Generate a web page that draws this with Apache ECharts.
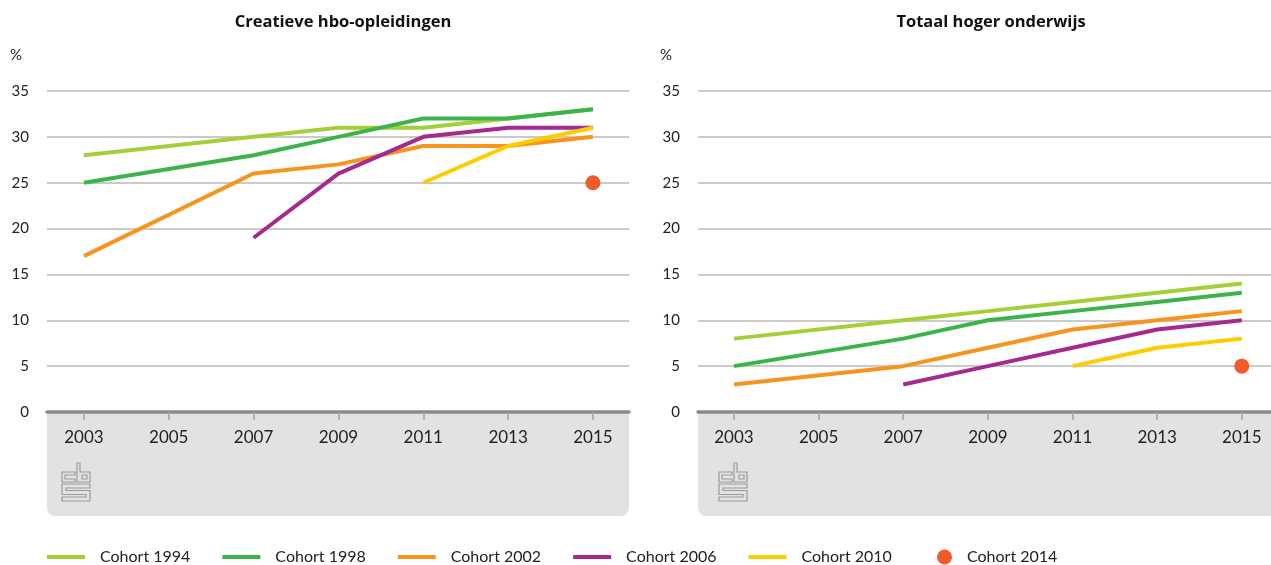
<!DOCTYPE html>
<html>
<head>
<meta charset="utf-8">
<script src="https://cdn.jsdelivr.net/npm/echarts@6/dist/echarts.min.js"></script>
<style>
  html, body { margin: 0; padding: 0; background: #fff; }
  #main { width: 1271px; height: 565px; }
</style>
</head>
<body>
<div id="main"></div>
<script>
// data
const years = [2003, 2007, 2009, 2011, 2013, 2015];
const tickYears = [2003, 2005, 2007, 2009, 2011, 2013, 2015];
const cohorts = ['Cohort 1994', 'Cohort 1998', 'Cohort 2002', 'Cohort 2006', 'Cohort 2010'];
const dotName = 'Cohort 2014';

// Creatieve hbo-opleidingen
const creatief1994 = [28, 30, 31, 31, 32, 33];
const creatief1998 = [25, 28, 30, 32, 32, 33];
const creatief2002 = [17, 26, 27, 29, 29, 30];
const creatief2006 = [null, 19, 26, 30, 31, 31];
const creatief2010 = [null, null, null, 25, 29, 31];
const creatief2014 = [null, null, null, null, null, 25];

// Totaal hoger onderwijs
const totaal1994 = [8, 10, 11, 12, 13, 14];
const totaal1998 = [5, 8, 10, 11, 12, 13];
const totaal2002 = [3, 5, 7, 9, 10, 11];
const totaal2006 = [null, 3, 5, 7, 9, 10];
const totaal2010 = [null, null, null, 5, 7, 8];
const totaal2014 = [null, null, null, null, null, 5];

const colors = ['#a6ce39', '#3cb44b', '#f7941d', '#a52a8f', '#ffcc00'];
const dotColor = '#f15a29';

const font = 'Lato';

function pairs(vals) {
  return years.map((y, i) => [y, vals[i]]).filter(p => p[1] !== null);
}

function xAxis(idx, min, max) {
  return {
    type: 'value', gridIndex: idx, min: min, max: max,
    splitLine: { show: false },
    axisLine: { show: true, lineStyle: { color: '#8a8a8a', width: 3.5 } },
    axisTick: { show: true, customValues: tickYears, length: 8, lineStyle: { color: '#a3a3a3', width: 1.5 } },
    axisLabel: { customValues: tickYears, color: '#222', fontSize: 17, fontFamily: font, margin: 17,
      formatter: v => String(v) }
  };
}
function yAxis(idx) {
  return {
    type: 'value', gridIndex: idx, min: 0, max: 35, interval: 5,
    axisLine: { show: false }, axisTick: { show: false },
    splitLine: { lineStyle: { color: '#b8b8b8', width: 1.5 } },
    axisLabel: { color: '#222', fontSize: 15, fontFamily: font, margin: 18 }
  };
}

const panels = [[creatief1994, creatief1998, creatief2002, creatief2006, creatief2010, creatief2014],
                [totaal1994, totaal1998, totaal2002, totaal2006, totaal2010, totaal2014]];
const series = [];
panels.forEach((set, p) => {
  cohorts.forEach((name, i) => {
    series.push({
      name: name, type: 'line', xAxisIndex: p, yAxisIndex: p,
      data: pairs(set[i]), symbol: 'none',
      lineStyle: { color: colors[i], width: 4 }, itemStyle: { color: colors[i] }
    });
  });
  series.push({
    name: dotName, type: 'scatter', xAxisIndex: p, yAxisIndex: p,
    data: pairs(set[5]), symbolSize: 15, itemStyle: { color: dotColor, opacity: 1 }
  });
});

function logo(x0, y0) {
  const st = { fill: 'none', stroke: '#9b9b9b', lineWidth: 1.2 };
  const poly = pts => ({ type: 'polygon', x: x0, y: y0, z: 1, silent: true,
    shape: { points: pts }, style: st });
  return [
    poly([[0, 9], [13, 9], [13, 12], [3, 12], [3, 16], [13, 16], [13, 19], [0, 19]]),
    poly([[15, 0], [18, 0], [18, 9], [28, 9], [28, 19], [15, 19]]),
    poly([[20, 12], [25, 12], [25, 16], [20, 16]]),
    poly([[0, 21], [28, 21], [28, 25], [4, 25], [4, 27.5], [28, 27.5], [28, 38], [0, 38], [0, 34], [24, 34], [24, 31.5], [0, 31.5]])
  ];
}

const myChart = echarts.init(document.getElementById('main'));
const option = {
  animation: false,
  textStyle: { fontFamily: font },
  title: [
    { text: 'Creatieve hbo-opleidingen', left: 338, top: 9, textAlign: 'center',
      textStyle: { fontSize: 16.5, fontWeight: 'bold', color: '#111', fontFamily: 'Open Sans' } },
    { text: 'Totaal hoger onderwijs', left: 986, top: 9, textAlign: 'center',
      textStyle: { fontSize: 16.5, fontWeight: 'bold', color: '#111', fontFamily: 'Open Sans' } }
  ],
  grid: [
    { left: 47, right: 642, top: 91, bottom: 153 },
    { left: 698, right: 0, top: 91, bottom: 153 }
  ],
  xAxis: [xAxis(0, 2002.13, 2015.85), xAxis(1, 2002.15, 2015.69)],
  yAxis: [yAxis(0), yAxis(1)],
  legend: [
    { data: cohorts, left: 47, top: 549, padding: 0, icon: 'rect', itemWidth: 38, itemHeight: 4, itemGap: 32,
      textStyle: { fontSize: 16, color: '#222', fontFamily: font, padding: [0, 0, 0, 10] } },
    { data: [dotName], left: 937, top: 549, padding: 0, icon: 'circle', itemWidth: 15, itemHeight: 15,
      textStyle: { fontSize: 16, color: '#222', fontFamily: font, padding: [0, 0, 0, 10] } }
  ],
  graphic: [
    { type: 'rect', z: -1, silent: true, shape: { x: 47, y: 412, width: 582, height: 104, r: [0, 0, 8, 8] },
      style: { fill: '#e1e2e4' } },
    { type: 'rect', z: -1, silent: true, shape: { x: 698, y: 412, width: 590, height: 104, r: [0, 0, 8, 8] },
      style: { fill: '#e1e2e4' } },
    { type: 'text', left: 10, top: 48, style: { text: '%', fontSize: 15, fill: '#222', fontFamily: font } },
    { type: 'text', left: 660, top: 48, style: { text: '%', fontSize: 15, fill: '#222', fontFamily: font } }
  ].concat(logo(62, 463), logo(719, 463)),
  series: series
};
myChart.setOption(option);
window.addEventListener('resize', function () {
  myChart.resize();
});
</script>
</body>
</html>
